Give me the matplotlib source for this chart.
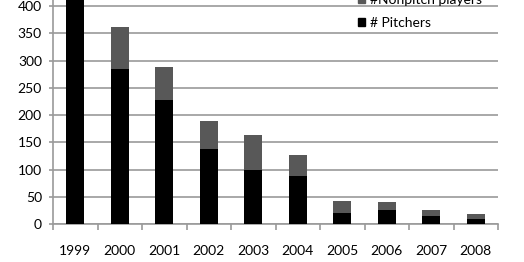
import numpy as np
import matplotlib
matplotlib.use("Agg")
import matplotlib.pyplot as plt
from matplotlib.patches import Patch

plt.rcParams['font.family'] = ['Lato', 'DejaVu Sans']

years = ['1999', '2000', '2001', '2002', '2003', '2004', '2005', '2006', '2007', '2008']
pitchers = [440, 285, 228, 138, 99, 89, 21, 26, 15, 10]
nonpitch = [20, 76, 60, 52, 65, 38, 21, 15, 10, 8]

fig = plt.figure(figsize=(5.24, 2.62), dpi=100)
# axes runs past the top edge of the figure, like the cropped original
ax = fig.add_axes([53/524, 38/262, 445/524, 245/262])

x = np.arange(len(years))
ax.bar(x, pitchers, width=0.4, color='black', zorder=3)
ax.bar(x, nonpitch, width=0.4, bottom=pitchers, color='#585858', zorder=3)

ax.set_xlim(-0.5, len(years) - 0.5)
ax.set_ylim(0, 450)
ax.set_yticks(np.arange(0, 451, 50))
ax.yaxis.grid(True, color='#9a9a9a', linewidth=1.2, zorder=0)

ax.set_xticks(x)
ax.set_xticklabels(years)
ax.set_xticks(np.arange(-0.5, len(years)), minor=True)
ax.tick_params(axis='x', which='major', length=0, pad=15, labelsize=10)
ax.tick_params(axis='x', which='minor', length=4, color='#9a9a9a', width=1.2)
ax.tick_params(axis='y', length=3, color='#9a9a9a', width=1.2, pad=5, labelsize=10)

for s in ['top', 'right']:
    ax.spines[s].set_visible(False)
ax.spines['left'].set_color('#9a9a9a')
ax.spines['bottom'].set_color('#9a9a9a')
ax.spines['left'].set_linewidth(1.2)
ax.spines['bottom'].set_linewidth(1.2)

handles = [Patch(color='#585858', label='#Nonpitch players'),
           Patch(color='black', label='# Pitchers')]
fig.legend(handles=handles, loc='upper left', bbox_to_anchor=(358/524, 1.022),
           frameon=False, fontsize=10, handlelength=0.5, handleheight=0.5,
           handletextpad=0.4, labelspacing=0.8, borderpad=0, borderaxespad=0)

fig.savefig('out.png', dpi=100)
